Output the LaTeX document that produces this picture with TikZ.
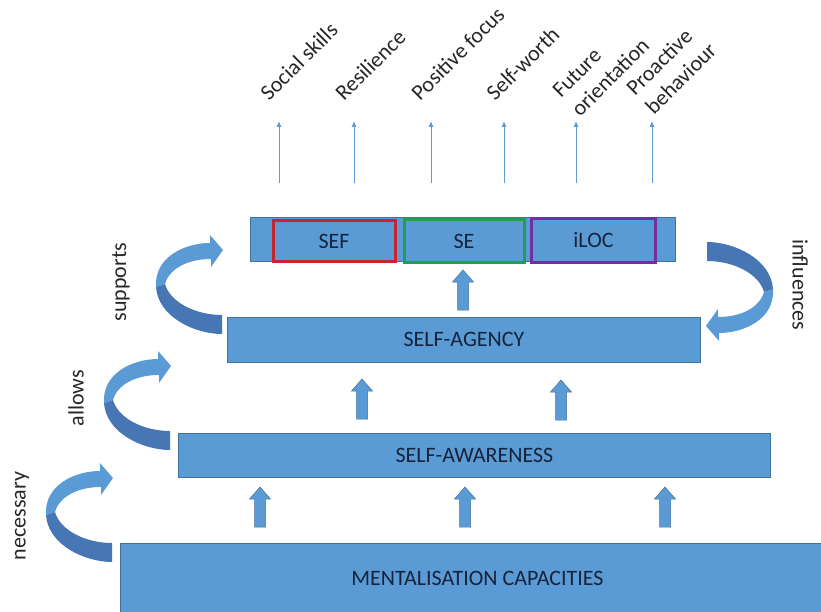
\documentclass[tikz,border=0pt]{standalone}
\usepackage{fontspec}
\setmainfont{Carlito}
\usetikzlibrary{arrows.meta,calc}
\definecolor{boxblue}{HTML}{5B9BD5}
\definecolor{boxedge}{HTML}{41719C}
\definecolor{bandshade}{HTML}{4677B4}
\definecolor{inktext}{HTML}{16233A}
\definecolor{labelink}{HTML}{262626}
\definecolor{sefred}{HTML}{C8242B}
\definecolor{segreen}{HTML}{1E9E5A}
\definecolor{locpurple}{HTML}{7030A0}

\begin{document}
\begin{tikzpicture}[x=1pt,y=-1pt,
  txt/.style={font=\fontsize{22}{27}\selectfont},
  level/.style={txt, draw=boxedge, line width=0.8pt, fill=boxblue, inner sep=0pt,
                text=inktext, anchor=north west},
  part/.style={txt, draw=#1, line width=3pt, inner sep=0pt, text=inktext},
  toplabel/.style={txt, text=labelink, inner sep=0pt, rotate=45, anchor=base west, align=left},
  sidelabel/.style={txt, text=labelink, inner sep=0pt},
  thinarrow/.style={draw=boxblue, line width=1pt, -{Latex[length=6pt,width=5pt]}},
  uparrow/.pic={
    \fill[boxblue, draw=boxedge, line width=0.5pt]
      (-5.5,0) -- (-5.5,-28) -- (-10.5,-28) -- (0,-40) -- (10.5,-28) -- (5.5,-28) -- (5.5,0) -- cycle;
  },
  bendarrow/.pic={
    % front face of the curved band with its head
    \fill[boxblue] (-66,-47) .. controls (-68,-77) and (-37,-91) .. (-12,-91)
      -- (-12,-99) -- (1,-84) -- (-11,-67) -- (-11,-75)
      .. controls (-32,-75) and (-52,-67) .. (-57,-50) -- cycle;
    % back face near the tail
    \fill[bandshade] (-66,-47) .. controls (-64,-17) and (-27,0) .. (0,0)
      -- (0,-19) .. controls (-27,-19) and (-52,-32) .. (-57,-50) -- cycle;
  }]
\useasboundingbox (0,0) rectangle (821,612);

% the four levels
\node[level, minimum width=714, minimum height=70] (ment) at (120,543) {MENTALISATION CAPACITIES};
\node[level, minimum width=592, minimum height=44] (aware) at (178,433) {SELF-AWARENESS};
\node[level, minimum width=473, minimum height=45] (agency) at (227,317) {SELF-AGENCY};
\node[level, minimum width=425, minimum height=44] (top) at (250,217) {};

% components of the top bar
\node[part=sefred, minimum width=122, minimum height=40] (sef) at (334,241) {SEF};
\node[part=segreen, minimum width=120, minimum height=42] (se) at (464,241) {SE};
\node[part=locpurple, minimum width=124, minimum height=43] (iloc) at (593.5,240.5) {iLOC};

% block arrows between the levels
\pic at (260,527) {uparrow};
\pic at (465,527) {uparrow};
\pic at (665,527) {uparrow};
\pic at (362,419) {uparrow};
\pic at (561,420) {uparrow};
\pic at (463,310) {uparrow};

% curved arrows with their captions
\pic at ($(ment.north west)+(-8,19)$) {bendarrow};
\pic at ($(aware.north west)+(-8,17)$) {bendarrow};
\pic at ($(agency.north west)+(-5,17)$) {bendarrow};
\pic[rotate=180] at (707,242) {bendarrow};

\node[sidelabel, rotate=90] (lnec) at (22,516) {necessary};
\node[sidelabel, rotate=90] (lall) at (76,398) {allows};
\node[sidelabel, rotate=90] (lsup) at (121,282) {supports};
\node[sidelabel, rotate=-90] (linf) at (800,285) {influences};

% outcomes
\foreach \x/\n in {279/a,354/b,431/c,504/d,576/e,652/f}{
  \coordinate (s\n) at (\x,183);
  \coordinate (t\n) at (\x,121);
  \draw[thinarrow] (s\n) -- (t\n);
}
\node[toplabel] (o1) at (269,102) {Social skills};
\node[toplabel] (o2) at (344,102) {Resilience};
\node[toplabel] (o3) at (420,102) {Positive focus};
\node[toplabel] (o4) at (495,102) {Self-worth};
% two-line labels are anchored at the baseline of their last line
\node[toplabel] (o5) at (580,118) {Future\\orientation};
\node[toplabel] (o6) at (654,116) {Proactive\\behaviour};
\end{tikzpicture}
\end{document}
